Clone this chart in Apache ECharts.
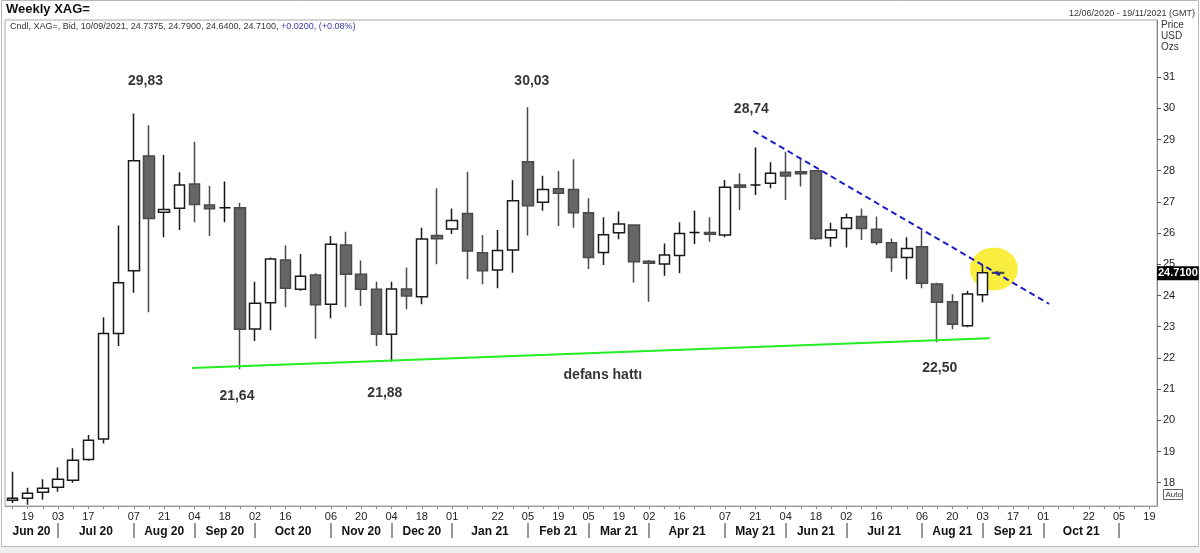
<!DOCTYPE html>
<html><head><meta charset="utf-8">
<script src="https://cdn.jsdelivr.net/npm/echarts/dist/echarts.min.js"></script>
<style>html,body{margin:0;padding:0;background:#fff}#c{width:1200px;height:553px}</style>
</head><body><div id="c"></div>
<script>
// ---- data ----
const weekDates = ['2020-06-12','2020-06-19','2020-06-26','2020-07-03','2020-07-10','2020-07-17','2020-07-24','2020-07-31','2020-08-07','2020-08-14','2020-08-21','2020-08-28','2020-09-04','2020-09-11','2020-09-18','2020-09-25','2020-10-02','2020-10-09','2020-10-16','2020-10-23','2020-10-30','2020-11-06','2020-11-13','2020-11-20','2020-11-27','2020-12-04','2020-12-11','2020-12-18','2020-12-25','2021-01-01','2021-01-08','2021-01-15','2021-01-22','2021-01-29','2021-02-05','2021-02-12','2021-02-19','2021-02-26','2021-03-05','2021-03-12','2021-03-19','2021-03-26','2021-04-02','2021-04-09','2021-04-16','2021-04-23','2021-04-30','2021-05-07','2021-05-14','2021-05-21','2021-05-28','2021-06-04','2021-06-11','2021-06-18','2021-06-25','2021-07-02','2021-07-09','2021-07-16','2021-07-23','2021-07-30','2021-08-06','2021-08-13','2021-08-20','2021-08-27','2021-09-03','2021-09-10','2021-09-17','2021-09-24','2021-10-01','2021-10-08','2021-10-15','2021-10-22','2021-10-29','2021-11-05','2021-11-12','2021-11-19'];

const opens  = [17.44,17.50,17.69,17.85,18.08,18.74,19.40,22.78,24.79,28.47,26.67,26.80,27.57,26.90,26.81,26.81,22.93,23.77,25.14,24.20,24.66,23.72,25.62,24.68,24.20,22.76,24.21,23.96,25.92,26.13,26.63,25.37,24.82,25.46,28.29,26.99,27.42,27.40,26.65,25.38,26.01,26.26,25.10,25.01,25.28,26.02,26.02,25.94,27.54,27.54,27.60,27.95,27.97,28.00,25.85,26.15,26.53,26.12,25.69,25.22,25.56,24.37,23.80,23.03,24.02,24.7375];
const highs  = [18.35,17.84,18.11,18.49,19.10,19.53,23.30,26.24,29.83,29.46,28.50,27.95,28.93,27.51,27.65,26.97,24.44,25.22,25.60,25.33,24.71,25.91,26.04,25.12,24.44,24.44,24.90,26.17,27.44,26.79,27.97,25.94,26.10,27.69,30.03,27.84,27.99,28.37,27.12,26.51,26.69,26.28,25.14,25.67,26.35,26.72,26.51,27.70,27.92,28.74,28.27,28.61,28.40,28.02,26.33,26.63,26.79,26.53,25.83,25.87,26.08,24.41,24.04,24.15,24.98,24.79];
const lows   = [17.35,17.29,17.45,17.71,18.00,18.70,19.26,22.38,24.09,23.46,25.87,26.10,26.35,25.91,26.35,21.64,22.54,22.89,23.62,24.15,22.61,23.27,23.62,23.66,22.38,21.88,23.56,23.72,25.00,25.97,24.52,24.36,24.23,24.73,25.92,26.72,26.23,26.17,24.85,24.98,25.80,24.42,23.80,24.63,24.71,25.65,25.72,25.87,26.74,27.22,27.44,27.06,27.49,25.78,25.56,25.54,25.78,25.62,24.76,24.52,24.23,22.50,22.92,22.98,23.78,24.64];
const closes = [17.50,17.66,17.82,18.11,18.72,19.36,22.78,24.41,28.32,26.47,26.76,27.54,26.92,26.78,26.81,22.92,23.75,25.17,24.23,24.62,23.70,25.64,24.68,24.20,22.76,24.21,23.98,25.81,25.82,26.40,25.43,24.79,25.44,27.04,26.88,27.40,27.28,26.65,25.22,25.95,26.29,25.08,25.03,25.30,25.99,26.02,25.96,27.47,27.47,27.54,27.92,27.83,27.90,25.83,26.10,26.49,26.15,25.70,25.22,25.51,24.39,23.78,23.08,24.05,24.73,24.71];

const dayLabelDates = ['2020-06-19','2020-07-03','2020-07-17','2020-08-07','2020-08-21','2020-09-04','2020-09-18','2020-10-02','2020-10-16','2020-11-06','2020-11-20','2020-12-04','2020-12-18','2021-01-01','2021-01-22','2021-02-05','2021-02-19','2021-03-05','2021-03-19','2021-04-02','2021-04-16','2021-05-07','2021-05-21','2021-06-04','2021-06-18','2021-07-02','2021-07-16','2021-08-06','2021-08-20','2021-09-03','2021-09-17','2021-10-01','2021-10-22','2021-11-05','2021-11-19'];
const monthStartIdx = [3,8,12,16,21,25,29,34,38,42,47,51,55,60,64,68,73];
const monthLabelPos = [1.25,5.5,10,14,18.5,23,27,31.5,36,40,44.5,49,53,57.5,62,66,70.5];
const monthLabels = ['Jun 20','Jul 20','Aug 20','Sep 20','Oct 20','Nov 20','Dec 20','Jan 21','Feb 21','Mar 21','Apr 21','May 21','Jun 21','Jul 21','Aug 21','Sep 21','Oct 21'];
const priceTicks = [18,19,20,21,22,23,24,25,26,27,28,29,30,31];

// annotations (x in week index units, y in price)
const supportLine = [[11.83,21.68],[64.47,22.63]];
const resistanceLine = [[48.86,29.28],[68.38,23.73]];
const highlightPoint = [[64.74,24.85]];
const annotations = [
  [8.77,30.875,'29,83'],
  [34.26,30.875,'30,03'],
  [48.74,29.98,'28,74'],
  [14.80,20.78,'21,64'],
  [24.56,20.875,'21,88'],
  [61.17,21.68,'22,50'],
  [38.94,21.45,'defans hattı']
];
const lastPrice = 24.71;
const lastPriceText = '24.7100';

// ---- chart ----
const FF = '"Liberation Sans", Arial, sans-serif';
const daySet = new Set(dayLabelDates);
const candleData = opens.map((o,i)=>[o, closes[i], lows[i], highs[i]]);

const chart = echarts.init(document.getElementById('c'), null, {renderer:'canvas'});
chart.setOption({
  animation:false,
  backgroundColor:'#ffffff',
  textStyle:{fontFamily:FF},
  title:[
    {text:'Weekly XAG=', left:6, top:3, padding:0, textStyle:{fontSize:13, fontWeight:'bold', color:'#111', fontFamily:FF}},
    {text:'{a|Cndl, XAG=, Bid, 10/09/2021, 24.7375, 24.7900, 24.6400, 24.7100, }{b|+0.0200, (+0.08%)}', left:10, top:22, padding:0,
     textStyle:{fontFamily:FF, fontWeight:'normal', rich:{a:{fontSize:9,fontWeight:'normal',color:'#333',fontFamily:FF}, b:{fontSize:9,fontWeight:'normal',color:'#3838b8',fontFamily:FF}}}},
    {text:'12/06/2020 - 19/11/2021 (GMT)', right:5, top:9, padding:0, textStyle:{fontSize:9, fontWeight:'normal', color:'#333', fontFamily:FF}}
  ],
  grid:{left:5, right:43, top:20, bottom:47, show:true, borderColor:'#a8a8a8', borderWidth:1, backgroundColor:'#fff'},
  xAxis:[
    {type:'category', data:weekDates, boundaryGap:true, position:'bottom',
     axisLine:{show:true, onZero:false, lineStyle:{color:'#999'}},
     axisTick:{show:true, alignWithLabel:true, interval:0, length:3, lineStyle:{color:'#888'}},
     axisLabel:{interval:(i,v)=>daySet.has(v), formatter:v=>v.slice(8,10), fontSize:11, color:'#222', margin:5, fontFamily:FF},
     splitLine:{show:false}},
    {type:'value', min:-0.5, max:75.5, position:'bottom', offset:17,
     axisLine:{show:false, onZero:false},
     axisTick:{show:true, customValues:monthStartIdx, length:15, lineStyle:{color:'#777', width:1.5}},
     axisLabel:{customValues:monthLabelPos, formatter:v=>monthLabels[monthLabelPos.indexOf(v)]||'', fontSize:12, fontWeight:'bold', color:'#111', margin:3, fontFamily:FF},
     splitLine:{show:false}}
  ],
  yAxis:{type:'value', position:'right', min:17.253, max:32.83,
     axisLine:{show:true, onZero:false, lineStyle:{color:'#888'}},
     axisTick:{show:true, customValues:priceTicks, length:4, lineStyle:{color:'#555'}},
     axisLabel:{customValues:priceTicks, margin:6, fontSize:11, color:'#222', fontFamily:FF},
     splitLine:{show:false}},
  series:[
    {type:'scatter', xAxisIndex:1, data:highlightPoint, symbol:'circle', symbolSize:[48,43], z:1, silent:true,
     itemStyle:{color:'#f8ea10'}},
    {type:'candlestick', xAxisIndex:0, data:candleData, barWidth:11, z:3,
     itemStyle:{color:'#ffffff', color0:'#666666', borderColor:'#1a1a1a', borderColor0:'#4a4a4a', borderColorDoji:'#111111', borderWidth:1.5},
     markLine:{silent:true, symbol:['none','none'], animation:false,
       lineStyle:{color:'rgba(0,0,0,0)', width:0},
       label:{show:true, position:'end', formatter:lastPriceText, backgroundColor:'#000', color:'#fff', fontWeight:'bold', fontSize:11, padding:[2,1,1,1], distance:0, fontFamily:FF},
       data:[{yAxis:lastPrice}]}},
    {type:'line', xAxisIndex:1, data:supportLine, symbol:'none', z:4, silent:true,
     lineStyle:{color:'#22ee22', width:2}},
    {type:'line', xAxisIndex:1, data:resistanceLine, symbol:'none', z:4, silent:true,
     lineStyle:{color:'#1c1cc8', width:2, type:[6,4]}},
    {type:'scatter', xAxisIndex:1, data:annotations, symbolSize:1, z:5, silent:true,
     itemStyle:{color:'rgba(0,0,0,0)'},
     label:{show:true, position:'inside', formatter:p=>p.data[2], fontSize:14, fontWeight:'bold', color:'#000', fontFamily:FF}}
  ],
  graphic:[
    {type:'rect', shape:{x:0, y:547, width:1200, height:6}, style:{fill:'#efefef'}, silent:true, z:-1},
    {type:'rect', shape:{x:1.5, y:0.5, width:1197, height:546}, style:{fill:null, stroke:'#b8b8b8', lineWidth:1}, silent:true},
    {type:'text', left:1161, top:20, style:{text:'Price\nUSD\nOzs', fontSize:10, lineHeight:11, fill:'#333', fontFamily:FF}, silent:true},
    {type:'group', left:1163, top:489, children:[
      {type:'rect', shape:{x:0, y:0, width:19, height:10}, style:{fill:'#fff', stroke:'#666', lineWidth:1}},
      {type:'text', x:2, y:1, style:{text:'Auto', fontSize:8, fill:'#333', fontFamily:FF}}
    ], silent:true}
  ]
});
</script></body></html>
